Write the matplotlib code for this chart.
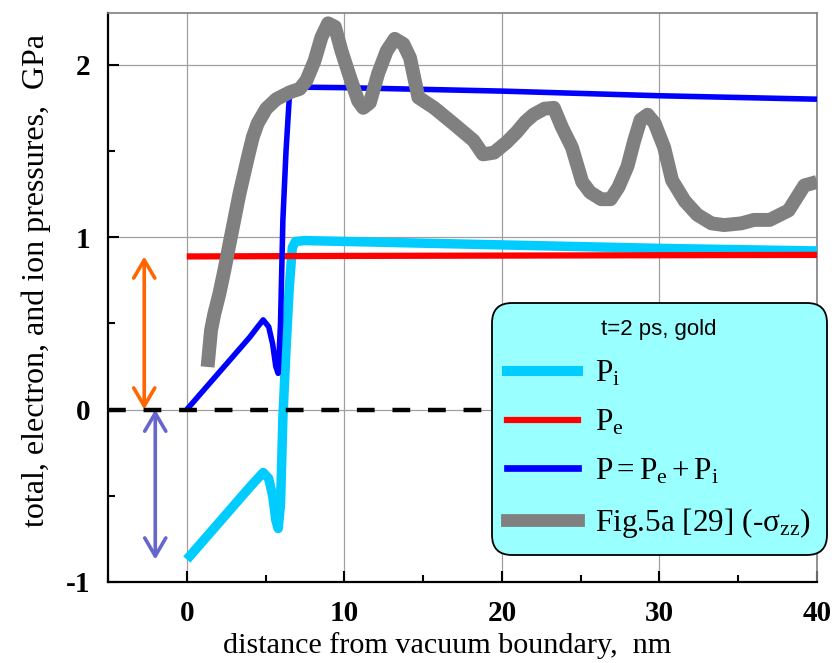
import matplotlib
matplotlib.use('Agg')
import matplotlib.pyplot as plt
from matplotlib.ticker import MultipleLocator
from matplotlib.lines import Line2D

plt.rcParams['font.family'] = 'Liberation Serif'
plt.rcParams['mathtext.fontset'] = 'custom'
plt.rcParams['mathtext.rm'] = 'Liberation Serif'
plt.rcParams['mathtext.it'] = 'Liberation Serif:italic'
plt.rcParams['mathtext.bf'] = 'Liberation Serif:bold'
plt.rcParams['axes.unicode_minus'] = False

# ion pressure P_i (GPa) vs distance (nm)
x_ion = [0, 1, 2, 3, 4, 4.5, 4.85, 5.2, 5.45, 5.65, 5.8, 5.95, 6.1, 6.3, 6.5, 6.7, 6.9,
         7.5, 10, 20, 30, 40]
p_ion = [-0.87, -0.765, -0.66, -0.555, -0.45, -0.40, -0.365, -0.40, -0.50, -0.64, -0.69,
         -0.55, -0.05, 0.35, 0.70, 0.94, 0.975, 0.98, 0.975, 0.955, 0.935, 0.92]

# electron pressure P_e
x_el = [0, 10, 20, 30, 40]
p_el = [0.888, 0.891, 0.893, 0.895, 0.897]

# total pressure P = P_e + P_i
x_tot = [0, 1, 2, 3, 4, 4.5, 4.85, 5.2, 5.45, 5.65, 5.8, 5.95, 6.1, 6.3, 6.5, 6.7, 7.0,
         10, 20, 30, 40]
p_tot = [0.0, 0.105, 0.21, 0.315, 0.42, 0.48, 0.52, 0.48, 0.38, 0.25, 0.21, 0.50, 1.10,
         1.50, 1.80, 1.86, 1.87, 1.867, 1.847, 1.82, 1.80]

# -sigma_zz from Fig.5a [29]
x_sig = [1.32, 1.54, 1.75, 2.07, 2.39, 2.71, 3.34, 3.87, 4.19, 4.5, 5.04, 5.68, 6.53, 7.17,
         7.6, 8.1, 8.55, 8.97, 9.4, 9.82, 10.35, 10.88, 11.2, 11.62, 12.15, 12.69, 13.2,
         13.75, 14.17, 14.7, 15.7, 16.9, 18.2, 18.8, 19.5, 20.3, 20.95, 21.5, 22.0, 22.7,
         23.3, 23.8, 24.45, 25.1, 25.6, 26.3, 26.9, 27.4, 27.97, 28.4, 28.8, 29.25, 29.7,
         30.3, 30.8, 31.6, 32.4, 33.3, 34.1, 35.2, 36.0, 37.0, 38.2, 39.2, 40.0]
p_sig = [0.247, 0.46, 0.556, 0.672, 0.81, 0.96, 1.25, 1.46, 1.58, 1.66, 1.745, 1.80, 1.84,
         1.86, 1.91, 2.02, 2.16, 2.24, 2.22, 2.08, 1.93, 1.79, 1.75, 1.78, 1.95, 2.08, 2.15,
         2.12, 2.04, 1.81, 1.75, 1.66, 1.56, 1.48, 1.49, 1.55, 1.61, 1.67, 1.71, 1.745,
         1.75, 1.64, 1.52, 1.32, 1.26, 1.22, 1.22, 1.29, 1.41, 1.56, 1.68, 1.71, 1.66,
         1.52, 1.33, 1.21, 1.13, 1.08, 1.07, 1.08, 1.10, 1.10, 1.155, 1.30, 1.32]

x_ticks = [0, 10, 20, 30, 40]
x_ticklabels = ['0', '10', '20', '30', '40']
y_ticks = [-1, 0, 1, 2]
y_ticklabels = ['-1', '0', '1', '2']

legend_title = 't=2 ps, gold'
legend_labels = [r'$\mathrm{P_i}$', r'$\mathrm{P_e}$', r'$\mathrm{P = P_e + P_i}$',
                 r'Fig.5a [29] (-$\mathrm{\sigma_{zz}}$)']

fig = plt.figure(figsize=(8.34, 6.63), dpi=100)
ax = fig.add_axes([0.1295, 0.1222, 0.8501, 0.8582])

c_ion, c_el, c_tot, c_sig = '#00ccff', '#ff0000', '#0000ff', '#808080'

l_ion, = ax.plot(x_ion, p_ion, color=c_ion, lw=6.8, solid_capstyle='butt',
                 solid_joinstyle='round', zorder=3)
l_el, = ax.plot(x_el, p_el, color=c_el, lw=4.5, solid_capstyle='butt', zorder=3.1)
l_tot, = ax.plot(x_tot, p_tot, color=c_tot, lw=4.0, solid_capstyle='butt',
                 solid_joinstyle='round', zorder=3.2)
ax.axhline(0, color='black', lw=3.2, dashes=(4, 4), zorder=3.3)
l_sig, = ax.plot(x_sig, p_sig, color=c_sig, lw=10.0, solid_capstyle='butt',
                 solid_joinstyle='round', zorder=3.4)

# magnitudes of P_e and P_i at the boundary
ax.annotate('', xy=(-2.7, 0.0), xytext=(-2.7, p_el[0]),
            arrowprops=dict(arrowstyle='<->,head_length=0.65,head_width=0.38',
                            color='#ff6600', lw=2.6, mutation_scale=20,
                            shrinkA=0, shrinkB=0))
ax.annotate('', xy=(-2.0, 0.0), xytext=(-2.0, p_ion[0]),
            arrowprops=dict(arrowstyle='<->,head_length=0.65,head_width=0.38',
                            color='#6666cc', lw=2.6, mutation_scale=20,
                            shrinkA=0, shrinkB=0))

ax.set_xlim(-5, 40)
ax.set_ylim(-1, 2.3)
ax.set_xticks(x_ticks, x_ticklabels, fontsize=21, fontweight='bold')
ax.set_yticks(y_ticks, y_ticklabels, fontsize=21, fontweight='bold')
ax.xaxis.set_minor_locator(MultipleLocator(5))
ax.yaxis.set_minor_locator(MultipleLocator(0.5))
ax.tick_params(which='major', direction='in', length=8, width=1.5, color='black')
ax.tick_params(axis='x', which='major', pad=13)
ax.tick_params(axis='y', which='major', pad=12.5)
ax.tick_params(which='minor', direction='in', length=5, width=1.5, color='black')

ax.grid(True, which='major', color='#a0a0a0', lw=0.9)
ax.set_axisbelow(True)
for side in ['left', 'bottom']:
    ax.spines[side].set_linewidth(1.6)
    ax.spines[side].set_color('black')
for side in ['top', 'right']:
    ax.spines[side].set_linewidth(1.2)
    ax.spines[side].set_color('#808080')

ax.set_xlabel('distance from vacuum boundary,  nm', fontsize=21.7)
ax.set_ylabel('total, electron, and ion pressures,  GPa', fontsize=23)
ax.xaxis.set_label_coords(0.478, -0.088)
ax.yaxis.set_label_coords(-0.08, 0.53)

handles = [Line2D([], [], color=c_ion, lw=7.2),
           Line2D([], [], color=c_el, lw=4.5),
           Line2D([], [], color=c_tot, lw=4.8),
           Line2D([], [], color=c_sig, lw=9.2)]
leg = ax.legend(handles, legend_labels, loc='upper left', bbox_to_anchor=(0.541, 0.49),
                prop={'family': 'Liberation Serif', 'size': 22.5},
                title=legend_title,
                title_fontproperties={'family': 'Liberation Sans', 'size': 16},
                handlelength=2.27, handletextpad=0.55, borderpad=0.5, labelspacing=0.62,
                frameon=True, fancybox=True, framealpha=1.0, borderaxespad=0)
frame = leg.get_frame()
frame.set_facecolor('#99ffff')
frame.set_edgecolor('black')
frame.set_linewidth(1.3)
frame.set_boxstyle('round', pad=0, rounding_size=0.65)
leg.set_zorder(6)

fig.savefig('out.png', dpi=100)
